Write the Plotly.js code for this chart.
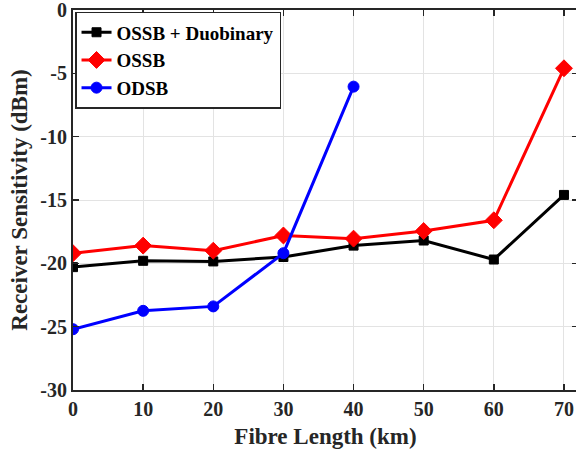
<!DOCTYPE html>
<html>
<head>
<meta charset="utf-8">
<script src="https://cdn.plot.ly/plotly-3.0.1.min.js"></script>
<style>html,body{margin:0;padding:0;overflow:hidden;background:#fff;}</style>
</head>
<body>
<div id="chart"></div>
<script>
var fibreLength = [0, 10, 20, 30, 40, 50, 60, 70];
var ossbDuo = [-20.3, -19.8, -19.85, -19.5, -18.6, -18.2, -19.7, -14.6];
var ossb = [-19.2, -18.6, -19.0, -17.8, -18.05, -17.45, -16.6, -4.6];
var odsbX = [0, 10, 20, 30, 40];
var odsb = [-25.2, -23.75, -23.4, -19.2, -6.05];
var xTicks = [0, 10, 20, 30, 40, 50, 60, 70];
var yTicks = [0, -5, -10, -15, -20, -25, -30];

var font = 'Liberation Serif, Times New Roman, serif';
var traces = [
  {x: fibreLength, y: ossbDuo, name: '<b>OSSB + Duobinary</b>', mode: 'lines+markers',
   line: {color: '#000000', width: 3},
   marker: {symbol: 'square', size: 9, color: '#000000', line: {width: 1, color: '#000000'}}},
  {x: fibreLength, y: ossb, name: '<b>OSSB</b>', mode: 'lines+markers',
   line: {color: '#ff0000', width: 3},
   marker: {symbol: 'diamond', size: 13, color: '#ff0000', line: {width: 1, color: '#ff0000'}}},
  {x: odsbX, y: odsb, name: '<b>ODSB</b>', mode: 'lines+markers',
   line: {color: '#0000ff', width: 3},
   marker: {symbol: 'circle', size: 11, color: '#0000ff', line: {width: 1, color: '#0000ff'}}}
];

var axisCommon = {
  showline: true, linecolor: '#262626', linewidth: 2, mirror: 'ticks',
  ticks: 'inside', ticklen: 6, tickwidth: 1.5, tickcolor: '#262626',
  showgrid: true, gridcolor: '#e3e3e3', gridwidth: 1, zeroline: false,
  ticklabeloverflow: 'allow',
  tickfont: {family: font, size: 20, color: '#262626', weight: 'bold'}
};

var layout = {
  width: 580, height: 457,
  margin: {l: 73, r: 2, t: 10, b: 67},
  paper_bgcolor: '#ffffff', plot_bgcolor: '#ffffff',
  showlegend: true,
  legend: {x: 0.004, y: 0.995, xanchor: 'left', yanchor: 'top',
    bgcolor: '#ffffff', bordercolor: '#262626', borderwidth: 1.5,
    font: {family: font, size: 19, color: '#000000'}, tracegroupgap: 0, itemwidth: 30},
  xaxis: Object.assign({}, axisCommon, {
    range: [0, 72], tickvals: xTicks, ticktext: xTicks.map(String),
    title: {text: '<b>Fibre Length (km)</b>', font: {family: font, size: 23, color: '#262626'}, standoff: 9}
  }),
  yaxis: Object.assign({}, axisCommon, {
    range: [-30, 0], tickvals: yTicks, ticktext: yTicks.map(String),
    title: {text: '<b>Receiver Sensitivity (dBm)</b>', font: {family: font, size: 23, color: '#262626'}, standoff: 6}
  })
};

Plotly.newPlot('chart', traces, layout, {displayModeBar: false, staticPlot: true});
</script>
</body>
</html>
